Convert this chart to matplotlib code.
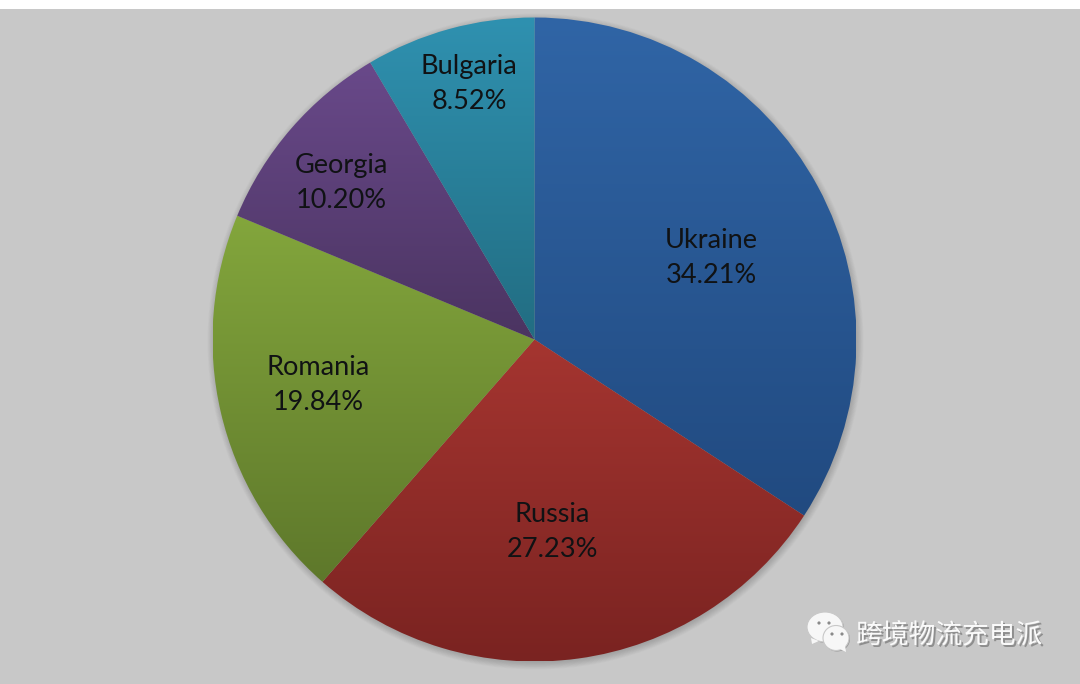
# -*- coding: utf-8 -*-
import matplotlib
matplotlib.use('Agg')
import matplotlib.pyplot as plt
from matplotlib.patches import Circle, Ellipse, Polygon, Rectangle
import numpy as np
from matplotlib.colors import LinearSegmentedColormap

# ---------- data ----------
countries = ['Ukraine', 'Russia', 'Romania', 'Georgia', 'Bulgaria']
shares = [34.21, 27.23, 19.84, 10.20, 8.52]
watermark = '跨境物流充电派'

# ---------- colours (top / bottom of each wedge) ----------
BG = '#c8c8c8'
TOP = ['#3065a6', '#a53530', '#83a63c', '#69498a', '#2f91b0']
BOTTOM = ['#214a80', '#7a2321', '#5e782b', '#4b3461', '#226d82']
INK = '#101214'

# label centres in pixels
label_pos = [(711, 258), (552, 532), (318, 385), (341, 183), (469, 84)]

W, H = 1080, 684
CX, CY, R = 534.5, H - 339.5, 322

fig = plt.figure(figsize=(W / 100, H / 100), dpi=100, facecolor='white')
ax = fig.add_axes([0, 0, 1, 1])

wedges, _ = ax.pie(shares, startangle=90, counterclock=False, center=(CX, CY), radius=R)

# gradient fill, clipped to each wedge
for wedge, c0, c1 in zip(wedges, TOP, BOTTOM):
    ext = wedge.get_path().get_extents()
    cmap = LinearSegmentedColormap.from_list('w', [c0, c1])
    im = ax.imshow(np.linspace(0, 1, 256).reshape(-1, 1), cmap=cmap, aspect='auto',
                   extent=(ext.x0, ext.x1, ext.y0, ext.y1), origin='upper',
                   zorder=3, interpolation='bilinear')
    im.set_clip_path(wedge)
    wedge.set_facecolor('none')
    wedge.set_edgecolor('none')

ax.set_xlim(0, W)
ax.set_ylim(0, H)
ax.set_aspect('auto')
ax.axis('off')

# gray page with the white strip on top
ax.add_patch(Rectangle((0, 0), W, H - 9, facecolor=BG, edgecolor='none', zorder=0))

# soft shadow under the pie, falls down and to the right
for i in range(12):
    ax.add_patch(Circle((CX + 1, CY - 2), R + 6 - i * 0.8, facecolor='#303030',
                        edgecolor='none', alpha=0.022, zorder=1))

# labels
for name, val, (px, py) in zip(countries, shares, label_pos):
    ax.text(px, H - py, f'{name}\n{val:.2f}%', ha='center', va='center', fontsize=19.5,
            color=INK, family='Lato', linespacing=1.52, zorder=5)

# ---------- watermark ----------
for dx, dy, col in [(1.5, -1.5, '#8e8e8e'), (0, 0, '#fafafa')]:
    ax.text(856 + dx, H - 636 + dy, watermark, ha='left', va='center', fontsize=19.3,
            color=col, family=['Noto Sans CJK SC', 'DejaVu Sans'], zorder=6)

# chat icon
for (ex, ey, ew, eh) in [(825, 627, 36, 30), (836, 638, 26, 25)]:
    y = H - ey
    ax.add_patch(Ellipse((ex + 1, y - 1), ew, eh, facecolor='#9a9a9a', edgecolor='none', zorder=6))
    ax.add_patch(Ellipse((ex, y), ew, eh, facecolor='#f7f7f7', edgecolor='#c8c8c8', lw=0.8, zorder=6))
ax.add_patch(Polygon([(811, H - 638), (812, H - 644), (819, H - 641)], facecolor='#f7f7f7', edgecolor='none', zorder=6))
ax.add_patch(Polygon([(838, H - 648), (846, H - 652), (845, H - 645)], facecolor='#f7f7f7', edgecolor='none', zorder=6))
for ex, ey in [(819, 623), (829, 623), (832, 634), (842, 634)]:
    ax.add_patch(Circle((ex, H - ey), 1.6, facecolor='#8a8a8a', edgecolor='none', zorder=7))

fig.savefig('out.png', dpi=100, facecolor='white')
plt.close(fig)
